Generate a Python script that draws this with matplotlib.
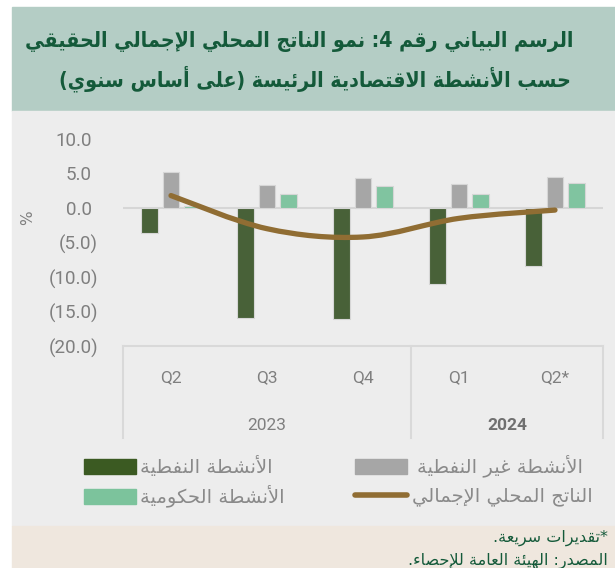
import numpy as np
import matplotlib.pyplot as plt
from matplotlib.patches import Rectangle, PathPatch
from matplotlib.path import Path
from matplotlib.lines import Line2D
from matplotlib.transforms import ScaledTranslation

# Data (year-on-year growth, %)
quarters = ["Q2", "Q3", "Q4", "Q1", "Q2*"]
years = ["2023", "2024"]
oil = [-3.6, -16.0, -16.1, -11.0, -8.4]
non_oil = [5.2, 3.4, 4.3, 3.5, 4.5]
government = [0.3, 2.1, 3.2, 2.0, 3.6]
gdp = [1.8, -3.0, -4.2, -1.5, -0.3]
yticks = [10, 5, 0, -5, -10, -15, -20]

# Arabic shaping (matplotlib has no complex text layout)
AR = {
    '\u0621': (0xFE80, 0), '\u0622': (0xFE81, 1), '\u0623': (0xFE83, 1),
    '\u0624': (0xFE85, 1), '\u0625': (0xFE87, 1), '\u0626': (0xFE89, 2),
    '\u0627': (0xFE8D, 1), '\u0628': (0xFE8F, 2), '\u0629': (0xFE93, 1),
    '\u062A': (0xFE95, 2), '\u062B': (0xFE99, 2), '\u062C': (0xFE9D, 2),
    '\u062D': (0xFEA1, 2), '\u062E': (0xFEA5, 2), '\u062F': (0xFEA9, 1),
    '\u0630': (0xFEAB, 1), '\u0631': (0xFEAD, 1), '\u0632': (0xFEAF, 1),
    '\u0633': (0xFEB1, 2), '\u0634': (0xFEB5, 2), '\u0635': (0xFEB9, 2),
    '\u0636': (0xFEBD, 2), '\u0637': (0xFEC1, 2), '\u0638': (0xFEC5, 2),
    '\u0639': (0xFEC9, 2), '\u063A': (0xFECD, 2), '\u0641': (0xFED1, 2),
    '\u0642': (0xFED5, 2), '\u0643': (0xFED9, 2), '\u0644': (0xFEDD, 2),
    '\u0645': (0xFEE1, 2), '\u0646': (0xFEE5, 2), '\u0647': (0xFEE9, 2),
    '\u0648': (0xFEED, 1), '\u0649': (0xFEEF, 1), '\u064A': (0xFEF1, 2),
}
LAMALEF = {'\u0622': 0xFEF5, '\u0623': 0xFEF7, '\u0625': 0xFEF9, '\u0627': 0xFEFB}


def shape(s):
    out = []
    i, n = 0, len(s)
    prev_joins = False
    while i < n:
        c = s[i]
        if c not in AR:
            out.append(c)
            prev_joins = False
            i += 1
            continue
        if c == '\u0644' and i + 1 < n and s[i + 1] in LAMALEF:
            out.append(chr(LAMALEF[s[i + 1]] + (1 if prev_joins else 0)))
            prev_joins = False
            i += 2
            continue
        base, kind = AR[c]
        nxt = s[i + 1] if i + 1 < n else ''
        joins_next = kind == 2 and nxt in AR and AR[nxt][1] > 0
        if kind == 0:
            form = 0
        elif prev_joins and joins_next:
            form = 3
        elif prev_joins:
            form = 1
        elif joins_next:
            form = 2
        else:
            form = 0
        out.append(chr(base + form))
        prev_joins = joins_next
        i += 1
    return ''.join(out)


def ar(s):
    return shape(s)[::-1].translate(str.maketrans('()', ')('))


W, H = 615, 568


def fx(x):
    return x / W


def fy(y):
    return 1 - y / H


fig = plt.figure(figsize=(6.15, 5.68), dpi=100, facecolor='white')

# background bands
fig.patches.append(Rectangle((fx(12), fy(111)), fx(W - 12), 104 / H, transform=fig.transFigure,
                             color='#b4cdc5', zorder=0))
fig.patches.append(Rectangle((fx(12), fy(526)), fx(W - 12), 415 / H, transform=fig.transFigure,
                             color='#ededed', zorder=0))
fig.patches.append(Rectangle((fx(12), 0), fx(W - 12), 42 / H, transform=fig.transFigure,
                             color='#efe7de', zorder=0))

# title
title_color = '#145a3a'
fig.text(fx(573), fy(42), ar("الرسم البياني رقم 4: نمو الناتج المحلي الإجمالي الحقيقي"),
         ha='right', va='center', fontsize=15.3, fontweight='bold', color=title_color,
         family='DejaVu Sans', fontstretch='condensed')
fig.text(fx(571), fy(79), ar("حسب الأنشطة الاقتصادية الرئيسة (على أساس سنوي)"),
         ha='right', va='center', fontsize=15.3, fontweight='bold', color=title_color,
         family='DejaVu Sans', fontstretch='condensed')

# main axes
ax = fig.add_axes([fx(123), fy(346), 480 / W, 207 / H])
ax.set_zorder(5)
ax.set_facecolor('none')
for sp in ax.spines.values():
    sp.set_visible(False)

x = np.arange(len(quarters))
bw, off = 0.174, 0.224
c_oil, c_non, c_gov, c_gdp = '#486138', '#a6a6a6', '#80c4a0', '#906d33'
edge = '#d6d6d6'
ax.axhline(0, color='#d6d6d6', lw=1.5, zorder=1)
ax.bar(x - off, oil, bw, color=c_oil, edgecolor=edge, lw=0.8, zorder=2)
ax.bar(x, non_oil, bw, color=c_non, edgecolor=edge, lw=0.8, zorder=2)
ax.bar(x + off, government, bw, color=c_gov, edgecolor=edge, lw=0.8, zorder=2)

# smoothed GDP line (cubic bezier through the points)
pts = np.column_stack([x, gdp]).astype(float)
ext = np.vstack([pts[0], pts, pts[-1]])
verts = [tuple(pts[0])]
codes = [Path.MOVETO]
for i in range(len(pts) - 1):
    p0, p1, p2, p3 = ext[i], ext[i + 1], ext[i + 2], ext[i + 3]
    verts += [tuple(p1 + (p2 - p0) / 6), tuple(p2 - (p3 - p1) / 6), tuple(p2)]
    codes += [Path.CURVE4] * 3
ax.add_patch(PathPatch(Path(verts, codes), facecolor='none', edgecolor=c_gdp, lw=3.8,
                       capstyle='round', zorder=3))

ax.set_xlim(-0.5, 4.5)
ax.set_ylim(-20, 10)

ylabels = [f"{v:.1f}" if v >= 0 else f"({-v:.1f})" for v in yticks]
ax.set_yticks(yticks, ylabels)
ax.tick_params(axis='y', length=0, pad=18, labelsize=13.5, labelcolor='#7f7f7f')
for lab, v in zip(ax.get_yticklabels(), yticks):
    lab.set_family('Roboto')
    if v >= 0:
        lab.set_transform(lab.get_transform() + ScaledTranslation(-6 / 100, 0, fig.dpi_scale_trans))

ax.set_xticks(x, quarters)
ax.tick_params(axis='x', length=0, pad=23, labelsize=12.5, labelcolor='#7f7f7f')
for lab in ax.get_xticklabels():
    lab.set_family('Roboto')
    lab.set_va('center')

# category box below the axis
tr = ax.get_xaxis_transform()
ybot = -(438 - 346) / 207
ax.plot([-0.5, 4.5], [0, 0], transform=tr, color='#d9d9d9', lw=1.5, clip_on=False)
for xv in [-0.5, 2.5, 4.5]:
    ax.plot([xv, xv], [0, ybot], transform=tr, color='#d9d9d9', lw=1.5, clip_on=False)
yy = -(426 - 346) / 207
ax.text(1, yy, years[0], transform=tr, ha='center', va='center', fontsize=12.5,
        color='#7f7f7f', family='Roboto')
ax.text(3.5, yy, years[1], transform=tr, ha='center', va='center', fontsize=12.5,
        color='#707070', family='Roboto', fontweight='bold')

fig.text(fx(28), fy(218), "%", rotation=90, ha='center', va='center', fontsize=11,
         color='#7f7f7f')

# legend
leg_color = '#8a8a8a'
leg_fs = 14


def swatch(x0, x1, yc, color):
    fig.patches.append(Rectangle((fx(x0), fy(yc + 7.5)), (x1 - x0) / W, 15 / H,
                                 transform=fig.transFigure, color=color))


swatch(84, 136, 466, '#3b5a22')
fig.text(fx(140), fy(466), ar("الأنشطة النفطية"), ha='left', va='center', fontsize=leg_fs,
         color=leg_color, family='DejaVu Sans')
swatch(84, 136, 496, '#7cc39c')
fig.text(fx(140), fy(496), ar("الأنشطة الحكومية"), ha='left', va='center', fontsize=leg_fs,
         color=leg_color, family='DejaVu Sans')
swatch(355, 407, 466, '#a6a6a6')
fig.text(fx(417), fy(466), ar("الأنشطة غير النفطية"), ha='left', va='center', fontsize=leg_fs,
         color=leg_color, family='DejaVu Sans')
fig.lines.append(Line2D([fx(355), fx(407)], [fy(495), fy(495)], transform=fig.transFigure,
                        color=c_gdp, lw=4, solid_capstyle='round'))
fig.text(fx(412), fy(496), ar("الناتج المحلي الإجمالي"), ha='left', va='center', fontsize=leg_fs,
         color=leg_color, family='DejaVu Sans')

# footer (second line is cut by the bottom edge, as in the reference)
fig.text(fx(608), fy(538), ar("*تقديرات سريعة."), ha='right', va='center', fontsize=11.5,
         color=title_color, family='DejaVu Sans')
fig.text(fx(608), fy(561), ar("المصدر: الهيئة العامة للإحصاء."), ha='right', va='center',
         fontsize=11.5, color=title_color, family='DejaVu Sans')

fig.savefig('out.png', dpi=100, facecolor='white')
